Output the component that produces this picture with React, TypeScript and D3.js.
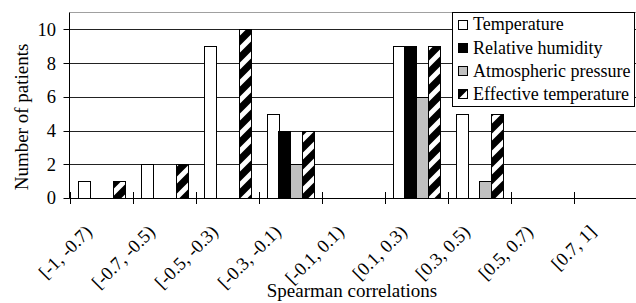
import { useEffect, useRef } from 'react'
import * as d3 from 'd3'

// bins of the Spearman correlation
const categories = ['[-1, -0.7)', '[-0.7, -0.5)', '[-0.5, -0.3)', '[-0.3, -0.1)', '[-0.1, 0.1)', '[0.1, 0.3)', '[0.3, 0.5)', '[0.5, 0.7)', '[0.7, 1]']
const seriesNames = ['Temperature', 'Relative humidity', 'Atmospheric pressure', 'Effective temperature']

const temperature = [1, 2, 9, 5, 0, 9, 5, 0, 0]
const relativeHumidity = [0, 0, 0, 4, 0, 9, 0, 0, 0]
const atmosphericPressure = [0, 0, 0, 2, 0, 6, 1, 0, 0]
const effectiveTemperature = [1, 2, 10, 4, 0, 9, 5, 0, 0]

const yTicks = [0, 2, 4, 6, 8, 10]

const WIDTH = 636
const HEIGHT = 303
const FONT = "'Liberation Serif', 'Times New Roman', serif"

function App() {
  const svgRef = useRef<SVGSVGElement | null>(null)

  useEffect(() => {
    if (!svgRef.current) return
    const svg = d3.select(svgRef.current)
    svg.selectAll('*').remove()

    const seriesValues = [temperature, relativeHumidity, atmosphericPressure, effectiveTemperature]
    const fills = ['#ffffff', '#000000', '#c0c0c0', 'url(#diag)']

    // pattern for the effective temperature bars (black with white upward diagonals)
    const defs = svg.append('defs')
    const pat = defs.append('pattern')
      .attr('id', 'diag')
      .attr('patternUnits', 'userSpaceOnUse')
      .attr('width', 17)
      .attr('height', 17)
    pat.append('rect').attr('width', 17).attr('height', 17).attr('fill', '#000')
    pat.append('path')
      .attr('d', 'M-4,21 L21,-4 M-4,4 L4,-4 M13,21 L21,13')
      .attr('stroke', '#fff')
      .attr('stroke-width', 5)

    const left = 69.5
    const right = 636.5
    const bottom = 198

    const x0 = d3.scaleBand<string>().domain(categories).range([left, right]).padding(0)
    const x1 = d3.scaleBand<string>().domain(seriesNames).range([8, x0.bandwidth() - 8]).padding(0)
    const y = d3.scaleLinear().domain([0, 11]).range([bottom, 12.6])

    // plot area top border
    svg.append('line')
      .attr('x1', left).attr('x2', right)
      .attr('y1', 12.5).attr('y2', 12.5)
      .attr('stroke', '#a0a0a0')

    // gridlines
    svg.append('g')
      .selectAll('line')
      .data(yTicks.filter(d => d > 0))
      .enter()
      .append('line')
      .attr('x1', left).attr('x2', right)
      .attr('y1', d => Math.round(y(d)) + 0.5)
      .attr('y2', d => Math.round(y(d)) + 0.5)
      .attr('stroke', '#222')

    // bars
    seriesNames.forEach((name, si) => {
      svg.append('g')
        .selectAll('rect')
        .data(seriesValues[si].map((v, i) => ({ v, c: categories[i] })).filter(d => d.v > 0))
        .enter()
        .append('rect')
        .attr('x', d => Math.round((x0(d.c) ?? 0) + (x1(name) ?? 0)) + 0.5)
        .attr('y', d => Math.round(y(d.v)) + 0.5)
        .attr('width', Math.round(x1.bandwidth()))
        .attr('height', d => Math.round(bottom - y(d.v)))
        .attr('fill', fills[si])
        .attr('stroke', '#000')
        .attr('stroke-width', 1)
    })

    // x axis with crossing ticks
    const xAxis = svg.append('g')
    xAxis.append('line')
      .attr('x1', left).attr('x2', right)
      .attr('y1', bottom + 0.5).attr('y2', bottom + 0.5)
      .attr('stroke', '#000')
    xAxis.selectAll('.tick')
      .data(categories)
      .enter()
      .append('line')
      .attr('x1', d => Math.round(x0(d) ?? 0) + 0.5)
      .attr('x2', d => Math.round(x0(d) ?? 0) + 0.5)
      .attr('y1', bottom - 6).attr('y2', bottom + 6)
      .attr('stroke', '#000')
    xAxis.selectAll('text')
      .data(categories)
      .enter()
      .append('text')
      .attr('transform', d => `translate(${(x0(d) ?? 0) + x0.bandwidth() / 2 - 8},${233}) rotate(-45)`)
      .attr('text-anchor', 'end')
      .style('font-family', FONT)
      .style('font-size', '18.5px')
      .text(d => d)

    // y axis
    const yAxis = svg.append('g')
    yAxis.append('line')
      .attr('x1', left).attr('x2', left)
      .attr('y1', 12.5).attr('y2', bottom + 0.5)
      .attr('stroke', '#000')
    yAxis.selectAll('.tick')
      .data(yTicks)
      .enter()
      .append('line')
      .attr('x1', left - 6).attr('x2', left)
      .attr('y1', d => Math.round(y(d)) + 0.5)
      .attr('y2', d => Math.round(y(d)) + 0.5)
      .attr('stroke', '#000')
    yAxis.selectAll('text')
      .data(yTicks)
      .enter()
      .append('text')
      .attr('x', 56)
      .attr('y', d => y(d))
      .attr('dy', '0.35em')
      .attr('text-anchor', 'end')
      .style('font-family', FONT)
      .style('font-size', '18.5px')
      .text(d => d)

    // axis titles
    svg.append('text')
      .attr('transform', 'translate(28,117) rotate(-90)')
      .attr('text-anchor', 'middle')
      .style('font-family', FONT)
      .style('font-size', '19px')
      .text('Number of patients')

    svg.append('text')
      .attr('x', 352)
      .attr('y', 297)
      .attr('text-anchor', 'middle')
      .style('font-family', FONT)
      .style('font-size', '19px')
      .text('Spearman correlations')

    // legend
    const legend = svg.append('g')
    legend.append('rect')
      .attr('x', 452.5).attr('y', 12.5)
      .attr('width', 182).attr('height', 94)
      .attr('fill', '#fff')
      .attr('stroke', '#000')
    seriesNames.forEach((name, i) => {
      const cy = 24 + i * 23.3
      legend.append('rect')
        .attr('x', 458.5).attr('y', Math.round(cy - 4.5) + 0.5)
        .attr('width', 9).attr('height', 9)
        .attr('fill', fills[i])
        .attr('stroke', '#000')
      legend.append('text')
        .attr('x', 473)
        .attr('y', cy)
        .attr('dy', '0.35em')
        .style('font-family', FONT)
        .style('font-size', '18px')
        .text(name)
    })
  }, [])

  return (
    <svg
      ref={svgRef}
      width={WIDTH}
      height={HEIGHT}
      style={{ position: 'absolute', left: 0, top: 0, background: '#fff' }}
    />
  )
}

export default App
